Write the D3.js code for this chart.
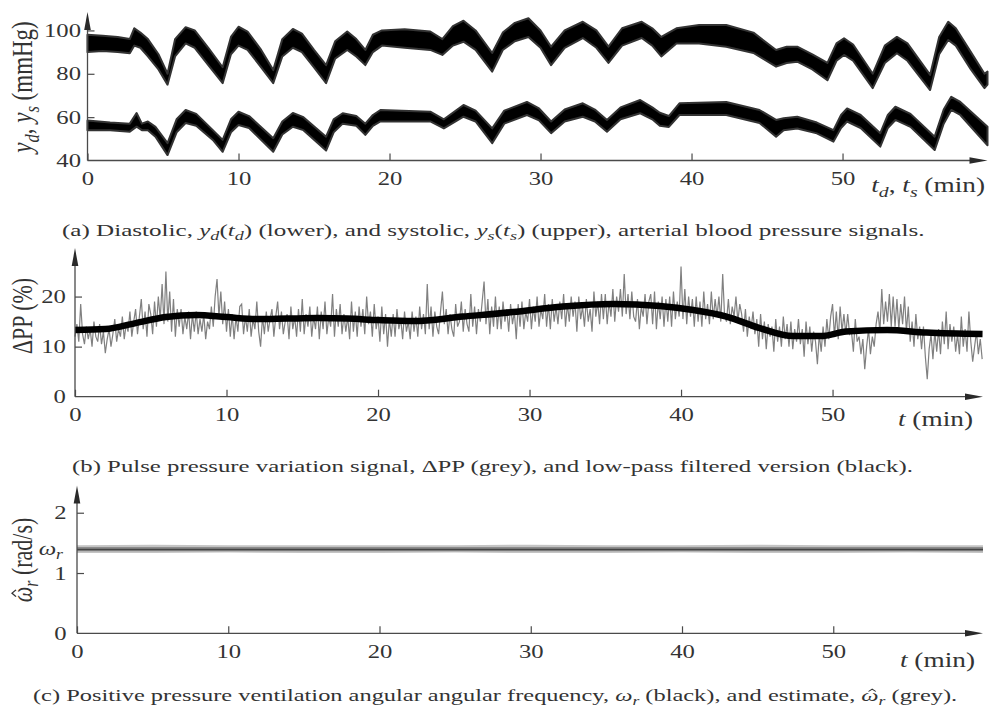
<!DOCTYPE html>
<html><head><meta charset="utf-8">
<script src="https://cdnjs.cloudflare.com/ajax/libs/d3/7.8.5/d3.min.js"></script>
<style>
body{margin:0;background:#fff;}
svg{display:block;}
text{font-family:"Liberation Serif","Times New Roman",serif;fill:#333;}
</style></head><body>
<svg id="chart" width="989" height="713"></svg>
<script>
// ---------- DATA ----------
// (a) systolic band (upper): time (min), lower edge, upper edge (mmHg)
const sysT  = [0,1,2,2.8,3.1,3.5,4.0,4.7,5.3,5.8,6.5,7.1,8.0,8.95,9.5,10.0,10.6,11.5,12.3,12.9,13.6,14.2,15.0,15.8,16.4,17.2,17.8,18.4,18.9,19.5,21,22.7,23.5,24.2,24.9,25.7,26.8,27.5,28.3,29.2,30.0,30.7,31.6,32.8,33.7,34.5,35.4,36.7,37.4,38.0,39,40.5,42.3,44.1,45.6,46.3,47,48.0,49,49.6,50.1,50.7,52,52.8,53.6,54.3,55.8,56.4,57,57.5,58.5,59.4,59.6];
const sysLo = [90,90.5,90,89.5,93,92,88,82,75,88,94,92,84,75.7,89,93,91,83,75.7,88,92,90,83,75.7,87,91,88,84,90,93,92,91,88.7,93,94.8,91,81,91,95,97,92,84,92,96.5,92,85,93,96.5,93,88,94,94,92.5,89.6,83.3,85,85.6,82,77,86,88.7,86,73.4,85,89.5,86,72.5,89,95.6,93,82,73.4,75];
const sysHi = [98,97.5,97,96,101,99,96,89,80,96,101.5,100,92,83,97,101.7,99.5,91,81.7,96,100.7,98.5,91,84,95,99.5,96,91,98,100,100.5,99.5,96,102,104.5,100,89.6,99,103.5,105.6,100,92.5,100,104,100,92.5,101,104,101,97,101,102.5,102.5,99,91,92.5,92.5,89,85,94,96.4,93.5,80,93,97,94,79.5,97,104,101,90,80,81];
// (a) diastolic band (lower)
const diaT  = [0,1.5,2.8,3.25,3.6,4.0,4.5,5.3,5.9,6.5,7.2,8.3,8.95,9.5,10.0,10.7,12.3,12.9,13.6,14.3,15.8,16.3,16.9,17.8,18.4,18.9,19.4,22.7,23.6,24.9,25.7,26.8,27.6,29.1,29.9,30.7,31.6,32.8,33.6,34.4,35.3,36.6,37.4,37.9,38.5,39.2,42.3,44.5,45.6,46.1,47,48.3,49.4,49.9,50.3,51.2,52.5,53.0,53.5,54.5,56.1,56.7,57.2,57.8,59.6];
const diaLo = [54,54,53.3,55.6,54,54,51,42.5,53,57.3,56,49.5,44,53,56.4,55,44,52,55.6,54,44.6,53,57,56,51.8,56,58,58,54.8,60.2,58,48,57,61,58.5,52.6,58,60.2,58,53.3,59,61.8,59,56,55.5,61,61,57.3,51,54,54.8,52.5,48.7,55,58,55,46.4,55,58.7,55.5,44.8,57,63.3,61,47];
const diaHi = [58.5,57.5,57,61.9,57,58,55.5,48,59,63.3,61.5,54,49.5,59,62.5,60.5,50.3,58,61.9,60,51,59,61.8,60.5,57,61,63.3,62.5,59,65.6,63,54.8,63,67,64,58,63.5,66.4,63.5,58.7,64.5,67.9,64.5,62,60.5,66.4,67,63.3,58.7,59.5,60.2,57.5,54,61,64,61,52.6,61,64.8,61.5,51,63.5,69.4,67,55.6];

// (b) pulse pressure variation (grey), sampled every 0.125 min from t = 0
const ppStart = 0, ppStep = 0.125;
const ppValues = [
 12,14.5,11,18.5,12.5,10.5,14,11.5,   13.5,10,15,12,11,14.5,10.5,13,
 8.7,11.5,13.5,10,12.5,15.5,11,13.5,  12,16,11.5,14.5,13,17,12,15,
 17.5,12.5,16,19.5,13.5,17,12,18.5,   16.5,12.5,19,14,20,15.5,22.5,14.5,
 25,15,21,13,19.5,12,17.5,14,         17.5,12.5,16,13.5,17,11.5,16.5,13,
 17,12.5,15.5,13,16.5,11.5,15,13.5,   18,14,20,23.5,16,21,14.5,19,
 13,17.5,12,16.5,11.5,16,13,18,       18.5,12.5,16,13,17.5,12,15.5,13.5,
 19,13,10,16,12.5,17,13,15.5,         17.5,12,16,19,13.5,17,12.5,15,
 16.5,11.5,18,13.5,16,12,17.5,13,     19.5,12.5,16.5,14,18,12,16,13.5,
 18,11.5,17,13.5,19,12.5,16,14,       20.5,12,17.5,14,18.5,12.5,16.5,13,
 16,11.5,19,13,17,12,18,14,           17.5,12.5,20,14.5,17,12,18.5,13.5,
 16,11,18,12.5,16.5,10,15.5,12,       16.5,12,17.5,13.5,15.5,11.5,17,13,
 15,11.5,17,13,16,12,18,13.5,         16.5,12.5,22.5,13.5,18,12,17,14,
 12.5,17,21,14.5,17.5,12.5,16.5,13.5, 12,18.5,14,15,19,13,17.5,14.5,
 13,20.5,14,18,12.5,17.5,15,19,       23,14.5,19.5,12.5,18,14,20,13.5,
 18,13.5,19,15,17.5,13,18.5,14.5,     17,11.5,18.5,14,19,13.5,17,15,
 19.5,13.5,18,15,20,14,17.5,15.5,     20.5,14,18.5,13.5,19.5,15,18,14.5,
 19,15.5,20.5,14,18.5,15,20,16,       19,13,20,15.5,18,14,19.5,15,
 17.5,13,21,16,19,14.5,20.5,15.5,     20.5,14.5,19,16,21.5,15,20,17,
 21.5,16,24.5,16.5,20.5,15.5,21,16,   15,19.5,13.5,18,16,20.5,14.5,19,
 20.5,14.5,21,13.5,19,15.5,20,14,     19.5,15,20,14,21,15.5,19,16,
 26,15.5,21.5,14.5,20,16,19.5,14,     20,15,19,14,21,15.5,18.5,14.5,
 21,15.5,19.5,16,20,15,24.5,16,       15,19.5,14.5,18,16,20,15,18.5,
 16.5,13,17.5,12,16,13.5,17,12.5,     15.5,10,16.5,11.5,15,9.5,14.5,12,
 14,9,15.5,11,14,10,16,11.5,          14.5,10,15,9.5,13.5,11,15.5,10.5,
 13.5,8,15,10.5,14,9,13,11,           6.5,12.5,9,14,10,15.5,11.5,16,
 18.5,12,17,11.5,18,13,16.5,12.5,     16.5,12.5,13,9,15.5,11,12,8.5,
 11.5,5.5,10,13.5,8.5,12,10,14.5,     17,13,21.5,14.5,19,15,20.5,14,
 20,14,19.5,13.5,18.5,14.5,20,13,     18,11,15,10,16.5,11.5,14,9.5,
 14,8,3.5,9.5,12.5,7.5,13,9,          13.5,8.5,15,10.5,17,9.5,14.5,11,
 14,9,12.5,8.5,16,10,13.5,9,          17,11,7,10,13,8.5,11.5,7.5
];
// (b) low-pass filtered version (black)
const ppSmoothT = [0,2,4,6,8,10,12,14,16,18,20,22.3,25.6,28.9,32.2,35.5,38.6,40.8,43,45.2,47.4,49.2,50.9,53.6,56.2,59.9];
const ppSmoothV = [13.3,13.5,14.7,15.9,16.3,15.9,15.5,15.6,15.7,15.6,15.3,15.1,16,16.9,18,18.5,18.1,17.3,16,13.7,12.1,12.1,13,13.3,12.8,12.5];

// (c) ventilation angular frequency: true value and estimate envelope
const omegaR = 1.39;
const omegaT    = [0,5,10,15,20,25,30,35,40,45,50,55,59.9];
const omegaLo   = [1.33,1.33,1.34,1.33,1.33,1.34,1.33,1.33,1.34,1.33,1.33,1.34,1.33];
const omegaHi   = [1.46,1.47,1.46,1.46,1.46,1.46,1.47,1.46,1.46,1.47,1.46,1.46,1.46];
const omegaInLo = [1.36,1.36,1.36,1.36,1.36,1.36,1.36,1.36,1.36,1.36,1.36,1.36,1.36];
const omegaInHi = [1.43,1.43,1.43,1.43,1.43,1.43,1.43,1.43,1.43,1.43,1.43,1.43,1.43];

// tick values
const xTicks = [0,10,20,30,40,50];
const yTicksA = [40,60,80,100];
const yTicksB = [0,10,20];
const yTicksC = [0,1,2];

// ---------- DRAWING ----------
const svg = d3.select('#chart');
const SX = 1.3;          // horizontal stretch of the reference's lettering
const AX = '#4a4a4a';

// rich text: segments are strings or [text, kind]; kind: 'i' italic, 'sub' italic subscript,
// 'ihat' italic letter with a circumflex accent drawn above it
function rich(g, segs, fs, anchor) {
  const text = g.append('text').attr('font-size', fs).attr('text-anchor', anchor || 'start');
  let shift = 0, idx = 0;
  const hats = [];
  segs.forEach(seg => {
    const s = typeof seg === 'string' ? [seg] : seg;
    const ts = text.append('tspan').text(s[0]);
    const k = s[1];
    if (k === 'i' || k === 'sub' || k === 'ihat') ts.style('font-style', 'italic');
    if (k === 'ihat') hats.push(idx);
    if (k === 'sub') {
      ts.attr('font-size', (fs * 0.72) + 'px');
      if (!shift) { ts.attr('dy', (fs * 0.22) + 'px'); shift = fs * 0.22; }
    } else if (shift) { ts.attr('dy', (-shift) + 'px'); shift = 0; }
    idx += s[0].length;
  });
  hats.forEach(ci => {
    const p = text.node().getStartPositionOfChar(ci);
    const e = text.node().getEndPositionOfChar(ci);
    const cx = (p.x + e.x) / 2 + fs * 0.06;
    const by = p.y;
    g.append('path')
      .attr('d', `M${cx - fs * 0.15},${by - fs * 0.56}L${cx},${by - fs * 0.70}L${cx + fs * 0.15},${by - fs * 0.56}`)
      .attr('fill', 'none').attr('stroke', '#333').attr('stroke-width', fs * 0.05);
  });
  return text;
}

function panel(cfg) {
  const g = svg.append('g');
  const x = d3.scaleLinear().domain(cfg.xDom).range(cfg.xRange);
  const y = d3.scaleLinear().domain(cfg.yDom).range(cfg.yRange);
  const x0 = cfg.xRange[0], y0 = cfg.yRange[0];
  const xEnd = cfg.xRange[1], yTop = cfg.yRange[1];
  cfg.draw(g, x, y);

  const xa = d3.axisBottom(x).tickValues(xTicks).tickFormat(d3.format('d'))
    .tickSizeInner(-7).tickSizeOuter(0).tickPadding(cfg.xPad);
  const gx = g.append('g').attr('transform', `translate(0,${y0})`).call(xa);
  gx.select('.domain').remove();
  gx.selectAll('line').attr('stroke', AX).attr('stroke-width', 1.2);
  gx.selectAll('text').attr('font-size', 19).attr('fill', '#333')
    .attr('font-family', '"Liberation Serif",serif').attr('transform', `scale(${SX},1)`);
  const ya = d3.axisLeft(y).tickValues(cfg.yTicks).tickFormat(d3.format('d'))
    .tickSizeInner(-7).tickSizeOuter(0).tickPadding(cfg.yPad);
  const gy = g.append('g').attr('transform', `translate(${x0},0)`).call(ya);
  gy.select('.domain').remove();
  gy.selectAll('line').attr('stroke', AX).attr('stroke-width', 1.2);
  gy.selectAll('.tick').filter(d => d === cfg.yDom[0]).select('line').remove();
  gy.selectAll('text').attr('font-size', 19).attr('fill', '#333')
    .attr('font-family', '"Liberation Serif",serif').attr('transform', `scale(${SX},1)`);

  const aL = 18, aW = 3.3;
  g.append('line').attr('x1', x0).attr('x2', xEnd - aL + 2).attr('y1', y0).attr('y2', y0)
    .attr('stroke', AX).attr('stroke-width', 1.3);
  g.append('line').attr('x1', x0).attr('x2', x0).attr('y1', y0).attr('y2', yTop + aL - 2)
    .attr('stroke', AX).attr('stroke-width', 1.3);
  g.append('path').attr('d', `M${xEnd},${y0}L${xEnd - aL},${y0 - aW}L${xEnd - aL},${y0 + aW}Z`).attr('fill', '#2a2a2a');
  g.append('path').attr('d', `M${x0},${yTop}L${x0 - aW},${yTop + aL}L${x0 + aW},${yTop + aL}Z`).attr('fill', '#2a2a2a');

  const xlg = g.append('g').attr('transform', `translate(${cfg.xLab[0]},${cfg.xLab[1]}) scale(${SX},1)`);
  rich(xlg, cfg.xLabSegs, 21, 'end');
  const ylg = g.append('g').attr('transform', `translate(${cfg.yLab[0]},${cfg.yLab[1]}) scale(${SX},1) rotate(-90)`);
  rich(ylg, cfg.yLabSegs, cfg.yLabFs, 'middle');
  if (cfg.extra) cfg.extra(g, x, y);
  return g;
}

// (a)
panel({
  xDom: [0, 59.6], xRange: [87.5, 987.5],
  yDom: [40, 108.5], yRange: [160.5, 12],
  yTicks: yTicksA, xPad: 11, yPad: 5,
  xLab: [985, 192], xLabSegs: [['t','i'],['d','sub'],', ',['t','i'],['s','sub'],' (min)'],
  yLab: [32, 87], yLabFs: 23, yLabSegs: [['y','i'],['d','sub'],', ',['y','i'],['s','sub'],' (mmHg)'],
  draw: (g, x, y) => {
    const band = (T, lo, hi) => d3.area().x((d, i) => x(T[i])).y0((d, i) => y(lo[i])).y1((d, i) => y(hi[i]))(T);
    [[sysT, sysLo, sysHi], [diaT, diaLo, diaHi]].forEach(([T, lo, hi]) => {
      g.append('path').attr('d', band(T, lo, hi)).attr('fill', '#000')
        .attr('stroke', '#333').attr('stroke-width', 2).attr('stroke-linejoin', 'round');
    });
  }
});

// (b)
panel({
  xDom: [0, 59.93], xRange: [75, 983],
  yDom: [0, 29.7], yRange: [396.7, 248],
  yTicks: yTicksB, xPad: 11, yPad: 7,
  xLab: [973, 426], xLabSegs: [['t','i'],' (min)'],
  yLab: [32, 316], yLabFs: 22, yLabSegs: ['ΔPP (%)'],
  draw: (g, x, y) => {
    const ln = d3.line().x((d, i) => x(ppStart + i * ppStep)).y(d => y(d));
    g.append('path').attr('d', ln(ppValues)).attr('fill', 'none').attr('stroke', '#808080')
      .attr('stroke-width', 1.2).attr('stroke-linejoin', 'miter');
    const sm = d3.line().x((d, i) => x(ppSmoothT[i])).y(d => y(d)).curve(d3.curveMonotoneX);
    g.append('path').attr('d', sm(ppSmoothV)).attr('fill', 'none').attr('stroke', '#000').attr('stroke-width', 6.5);
  }
});

// (c)
panel({
  xDom: [0, 59.9], xRange: [77, 983],
  yDom: [0, 2.45], yRange: [633.3, 485.6],
  yTicks: yTicksC, xPad: 11, yPad: 8,
  xLab: [975, 667], xLabSegs: [['t','i'],' (min)'],
  yLab: [32, 560], yLabFs: 22, yLabSegs: [['ω','ihat'],['r','sub'],' (rad/s)'],
  draw: (g, x, y) => {
    const band = (lo, hi) => d3.area().x((d, i) => x(omegaT[i])).y0((d, i) => y(lo[i])).y1((d, i) => y(hi[i]))(omegaT);
    g.append('path').attr('d', band(omegaLo, omegaHi)).attr('fill', '#c4c4c4');
    g.append('path').attr('d', band(omegaInLo, omegaInHi)).attr('fill', '#8c8c8c');
    g.append('line').attr('x1', x(0)).attr('x2', x(59.9)).attr('y1', y(omegaR)).attr('y2', y(omegaR))
      .attr('stroke', '#444').attr('stroke-width', 1.5);
  },
  extra: (g, x, y) => {
    const tg = g.append('g').attr('transform', `translate(${x(0) - 14},${y(omegaR) + 5}) scale(${SX},1)`);
    rich(tg, [['ω','i'],['r','sub']], 19, 'end');
  }
});

// captions
const captions = [
  { x0: 62, x1: 925, yb: 236, segs: ['(a) Diastolic, ',['y','i'],['d','sub'],'(',['t','i'],['d','sub'],') (lower), and systolic, ',['y','i'],['s','sub'],'(',['t','i'],['s','sub'],') (upper), arterial blood pressure signals.'] },
  { x0: 72, x1: 913, yb: 472, segs: ['(b) Pulse pressure variation signal, ΔPP (grey), and low-pass filtered version (black).'] },
  { x0: 33, x1: 958, yb: 701, segs: ['(c) Positive pressure ventilation angular angular frequency, ',['ω','i'],['r','sub'],' (black), and estimate, ',['ω','ihat'],['r','sub'],' (grey).'] }
];
captions.forEach(c => {
  const cg = svg.append('g');
  const t = rich(cg, c.segs, 17, 'start');
  const w = t.node().getComputedTextLength();
  const s = (c.x1 - c.x0) / w;
  cg.attr('transform', `translate(${c.x0},${c.yb}) scale(${s},1)`);
});
</script>
</body></html>
